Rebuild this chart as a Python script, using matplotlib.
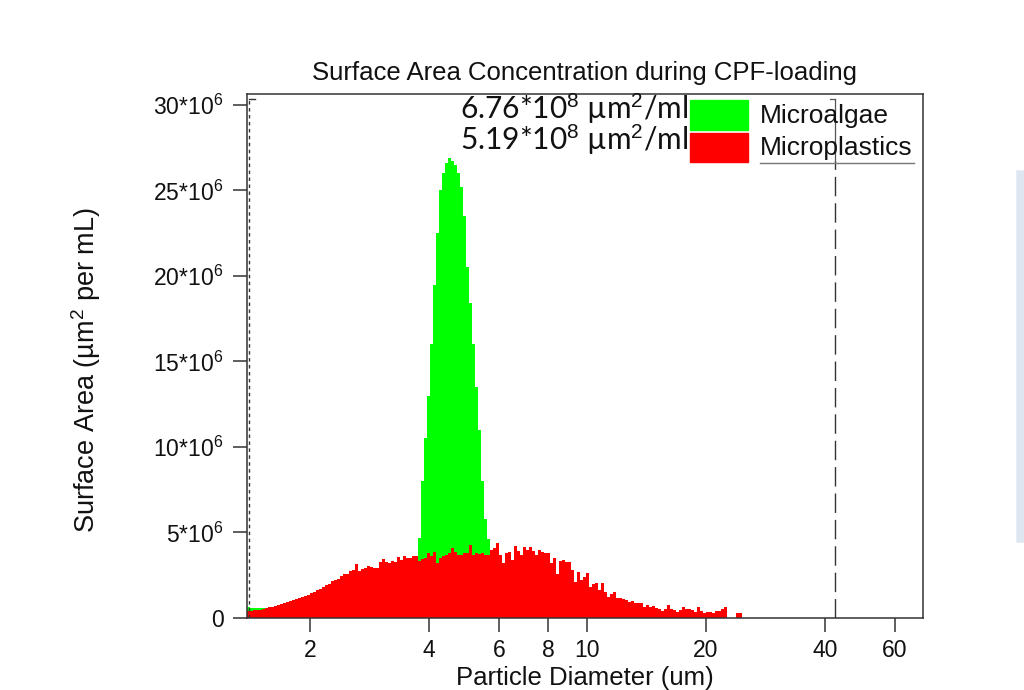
import numpy as np
import matplotlib
matplotlib.use("Agg")
import matplotlib.pyplot as plt
from matplotlib.patches import Rectangle
from matplotlib.lines import Line2D

plt.rcParams['font.family'] = ['Liberation Sans', 'DejaVu Sans']
plt.rcParams['mathtext.fontset'] = 'custom'
plt.rcParams['mathtext.rm'] = 'Liberation Sans'
plt.rcParams['mathtext.it'] = 'Liberation Sans:italic'
plt.rcParams['mathtext.bf'] = 'Liberation Sans:bold'

# ---- data (values in units of 1e6 um^2 per mL) ----
# log-spaced bin grid: first edge and log10 step
bin_start_log = 0.1419
bin_step_log = 0.007576

microplastics = [
    0.43, 0.43, 0.44, 0.45, 0.48, 0.52, 0.57, 0.62, 0.66, 0.72,
    0.76, 0.82, 0.87, 0.93, 0.98, 1.03, 1.10, 1.15, 1.22, 1.29,
    1.36, 1.48, 1.52, 1.62, 1.72, 1.80, 1.95, 2.00, 2.15, 2.20,
    2.30, 2.45, 2.60, 2.55, 2.75, 2.80, 3.15, 2.75, 2.85, 2.95,
    3.05, 3.00, 2.95, 2.90, 3.30, 3.45, 3.30, 3.20, 3.35, 3.30,
    3.55, 3.40, 3.63, 3.50, 3.50, 3.60, 3.60, 3.35, 3.45, 3.50,
    3.80, 3.60, 3.88, 3.20, 3.50, 3.63, 3.70, 3.80, 4.10, 3.88,
    3.70, 3.68, 3.80, 3.80, 4.27, 3.68, 3.80, 3.75, 3.80, 3.70,
    3.68, 4.00, 4.10, 4.38, 3.68, 3.20, 3.80, 3.88, 3.40, 4.20,
    3.90, 3.68, 4.15, 4.00, 4.15, 3.90, 3.68, 4.00, 3.85, 3.80,
    3.80, 3.20, 3.50, 2.60, 3.35, 3.40, 3.30, 3.30, 2.80, 2.10,
    2.70, 2.20, 2.40, 2.65, 1.83, 2.00, 2.04, 1.64, 2.04, 1.54,
    1.25, 1.40, 1.54, 1.17, 1.17, 1.10, 1.05, 0.95, 1.00, 0.86,
    0.90, 0.90, 0.66, 0.75, 0.66, 0.70, 0.60, 0.50, 0.43, 0.55,
    0.76, 0.55, 0.47, 0.37, 0.45, 0.63, 0.55, 0.50, 0.45, 0.37,
    0.66, 0.40, 0.27, 0.37, 0.35, 0.27, 0.43, 0.43, 0.55, 0.63,
    0.00, 0.00, 0.00, 0.30, 0.30,
]

microalgae = [
    0.64, 0.58, 0.58, 0.57, 0.57, 0.57, 0.00, 0.00, 0.00, 0.00,
    0.00, 0.00, 0.00, 0.00, 0.00, 0.00, 0.00, 0.00, 0.00, 0.00,
    0.00, 0.00, 0.00, 0.00, 0.00, 0.00, 0.00, 0.00, 0.00, 0.00,
    0.00, 0.00, 0.00, 0.00, 0.00, 0.00, 0.00, 0.00, 0.00, 0.00,
    0.00, 0.00, 0.00, 0.00, 0.00, 0.00, 0.00, 0.00, 0.00, 0.00,
    0.00, 0.00, 0.00, 0.00, 0.00, 0.00, 0.00, 4.70, 8.00, 10.50,
    13.00, 16.00, 19.50, 22.50, 25.00, 26.00, 26.60, 26.90, 26.70, 26.50,
    26.00, 25.20, 23.50, 20.50, 18.40, 16.00, 13.50, 11.00, 8.00, 5.80,
    4.60, 0.00, 0.00, 0.00, 0.00, 0.00, 0.00, 0.00, 0.00, 0.00,
    0.00, 0.00, 0.00, 0.00, 0.00, 0.00, 0.00, 0.00, 0.00, 0.00,
    0.00, 0.00, 0.00, 0.00, 0.00, 0.00, 0.00, 0.00, 0.00, 0.00,
    0.00, 0.00, 0.00, 0.00, 0.00, 0.00, 0.00, 0.00, 0.00, 0.00,
    0.00, 0.00, 0.00, 0.00, 0.00, 0.00, 0.00, 0.00, 0.00, 0.00,
    0.00, 0.00, 0.00, 0.00, 0.00, 0.00, 0.00, 0.00, 0.00, 0.00,
    0.00, 0.00, 0.00, 0.00, 0.00, 0.00, 0.00, 0.00, 0.00, 0.00,
    0.00, 0.00, 0.00, 0.00, 0.00, 0.00, 0.00, 0.00, 0.00, 0.00,
    0.00, 0.00, 0.00, 0.00, 0.00,
]

x_ticks = [2, 4, 6, 8, 10, 20, 40, 60]
y_ticks = [0, 5, 10, 15, 20, 25, 30]
y_tick_labels = ['0'] + [f'{v}*10$^{{6}}$' for v in y_ticks[1:]]
cursor_a = 1.40
cursor_b = 42.35
totals = ['6.76*10$^{8}$ µm$^{2}$/ml', '5.19*10$^{8}$ µm$^{2}$/ml']
series_names = ['Microalgae', 'Microplastics']
colors = ['#00ff00', '#ff0000']

# ---- figure ----
W, H = 1024, 690
fig = plt.figure(figsize=(W / 100, H / 100), dpi=100)
fig.patch.set_facecolor('white')

def fx(px):
    return px / W

def fy(py):
    return 1 - py / H

ax = fig.add_axes([fx(247), fy(618), (923 - 247) / W, (618 - 94) / H])

n = len(microplastics)
edges = 10 ** (bin_start_log + bin_step_log * np.arange(n + 1))
ma = np.array(microalgae) * 1e6
mp = np.array(microplastics) * 1e6
ax.stairs(ma, edges, fill=True, color=colors[0], linewidth=0)
ax.stairs(mp, edges, fill=True, color=colors[1], linewidth=0)

ax.set_xscale('log')
ax.set_xlim(1.3869, 70.63)
ax.set_ylim(0, 30.64e6)

ax.set_xticks(x_ticks)
ax.set_xticklabels([str(t) for t in x_ticks])
ax.xaxis.set_minor_locator(matplotlib.ticker.NullLocator())
ax.set_yticks([v * 1e6 for v in y_ticks])
ax.set_yticklabels(y_tick_labels)
ax.yaxis.set_minor_locator(matplotlib.ticker.NullLocator())
ax.tick_params(axis='both', direction='out', length=10, width=1.1,
               color='#333333', labelsize=16.5, labelcolor='#111111')
ax.tick_params(axis='y', pad=7)
ax.tick_params(axis='x', pad=5)
for s in ax.spines.values():
    s.set_color('#333333')
    s.set_linewidth(1.1)

# cursors
ax.plot([cursor_a, cursor_a], [0, 30.35e6], color='#333333', lw=1.0,
        linestyle=(0, (2.5, 2.5)))
ax.plot([cursor_a, cursor_a * 1.035], [30.35e6, 30.35e6], color='#333333', lw=1.0)
ax.plot([cursor_b, cursor_b], [0, 26.7e6], color='#333333', lw=1.0,
        linestyle=(0, (14, 5)))
ax.plot([cursor_b, cursor_b], [26.7e6, 30.35e6], color='#555555', lw=0.9)
ax.plot([cursor_b / 1.03, cursor_b], [30.35e6, 30.35e6], color='#555555', lw=0.9)

# title and axis labels
fig.text(fx(584), fy(80), 'Surface Area Concentration during CPF-loading',
         fontsize=18.5, ha='center', va='baseline', color='#111111')
fig.text(fx(86), fy(370), 'Surface Area (µm$^{2}$ per mL)', fontsize=19.5,
         rotation=90, ha='center', va='center', color='#111111')
fig.text(fx(585), fy(685), 'Particle Diameter (um)', fontsize=18.5,
         ha='center', va='baseline', color='#111111')

# legend, drawn by hand
fig.patches.append(Rectangle((fx(690), fy(130)), 58 / W, 30 / H,
                             transform=fig.transFigure, color=colors[0], zorder=5))
fig.patches.append(Rectangle((fx(690), fy(162)), 58 / W, 29 / H,
                             transform=fig.transFigure, color=colors[1], zorder=5))
fig.text(fx(760), fy(123), series_names[0], fontsize=19, va='baseline', ha='left',
         color='#111111')
fig.text(fx(760), fy(155), series_names[1], fontsize=19, va='baseline', ha='left',
         color='#111111')
fig.lines.append(Line2D([fx(760), fx(914)], [fy(163), fy(163)],
                        transform=fig.transFigure, color='#777777', lw=1.0))

# total annotations
fig.text(fx(688), fy(119), totals[0], fontsize=21.5, ha='right', va='baseline',
         family=['Lato', 'DejaVu Sans'], color='#111111')
fig.text(fx(688), fy(150), totals[1], fontsize=21.5, ha='right', va='baseline',
         family=['Lato', 'DejaVu Sans'], color='#111111')

# side panel edge
fig.patches.append(Rectangle((fx(1016), fy(542)), 8 / W, (542 - 170) / H,
                             transform=fig.transFigure, facecolor='#dee6f1',
                             edgecolor='#e8edf5', lw=0.5))

fig.savefig('out.png', dpi=100)
